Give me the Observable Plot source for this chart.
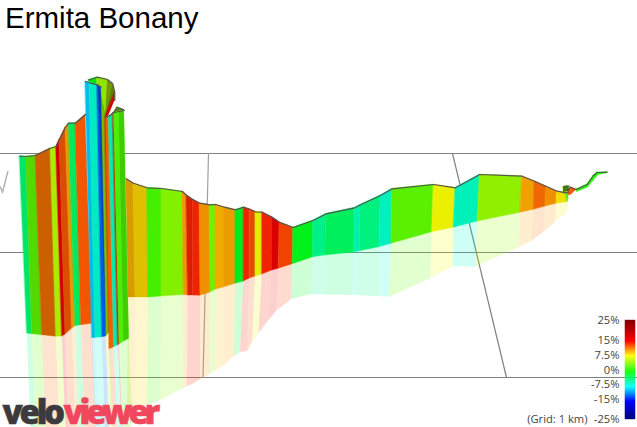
<!DOCTYPE html>
<html>
<head>
<meta charset="utf-8">
<script src="https://cdn.jsdelivr.net/npm/d3@7"></script>
<script src="https://cdn.jsdelivr.net/npm/@observablehq/plot@0.6"></script>
<style>
html,body{margin:0;padding:0;background:#fff;overflow:hidden}
#wrap{position:relative;width:637px;height:427px}
#title{position:absolute;left:5px;top:-1px;font:29.5px/38px "Liberation Sans",Arial,sans-serif;color:#000;white-space:nowrap}
.logo-a text{letter-spacing:-3.2px}
.logo-b text{letter-spacing:-4.1px}
</style>
</head>
<body>
<div id="wrap"><div id="title">Ermita Bonany</div></div>
<script>
const titleText = "Ermita Bonany";
const sectionNames = ["road","left","strip","ribbon","column","right","cap","bump","tip","tail"];
// per-section rows: profile top, wall foot, reflection foot; grade (%) of the band that starts there, surface darkness
const topX = [
 125.7,133,146.7,161,182,186,192.3,199.3,209.3,215,224,235,243.3,249.3,255,261.7,271.7,279,292.7,312.7,325.7,354.3,360,380,391.7,433.3,455,479.3,521.7,534,546,556.7,565,568,
 19.3,25.7,35,50,55.7,59,65,68.3,75,85,
 98,105.5,
 88,96.7,107,112.3,114.3,114.3,
 85,89,96.7,100.7,
 104.3,108.3,112.5,113.5,118.5,123.8,
 113.3,116.7,123.3,
 563,568.5,
 567.5,570,575.7,
 575.7,586.7,593,596.7,606.7];
const topY = [
 178.3,182.7,187.3,188,191,194.7,199,202.7,204.3,204,206.7,209.3,206.7,208.7,211.3,211.7,216.7,221.7,227,220,213.3,207.3,204.3,195,188.3,184,187.3,174,175.7,180.7,186,190.7,192.3,192,
 155.7,156,155,147.7,146,139,126.7,122.7,122.7,114,
 82,115,
 79.5,76.7,79,83.3,92,100,
 81,82.3,84.3,86.7,
 116.7,116,112.5,112,111,110,
 112,106.7,109.3,
 186,185.5,
 190,186.7,189,
 189,184,175,172,171.7];
const botX = [
 128,135,148,161,183.3,187.5,192.3,200,210,215,224,235,243.3,249.3,255,261.7,271.7,278.3,292.3,312.7,324.7,353.7,359.3,379,391,431.7,453.3,477.3,520,533.3,545,556,566.7,568,
 26.7,31.7,41.7,55.7,61.7,65,71.7,75,80.7,91.7,
 105.7,109,
 89,96.7,105,105,105,107,
 91.7,95,101.7,105.7,
 109,113.7,117.7,119,123.3,128.7,
 113.5,118,123.8,
 563,569,
 568.3,571,575.7,
 576.5,587.5,595,598,606.7];
const botY = [
 297,297,297,296,294.5,295,295,295.3,292,289.3,286.7,283.3,281,278,276,274,270,268.3,263.7,256.7,255,252,250.7,246.7,243.3,231.7,227.3,221,212.3,209.3,206,203.3,201.7,200,
 333,333.7,334.7,336.3,336,334,328,325.7,324.7,323.3,
 336,332,
 82,84.3,116,116,116,118,
 337.7,337.5,336.7,336,
 348.7,346.7,344.5,344,341,338.5,
 112,111,110,
 192,191,
 195,194,189.5,
 191.5,187,178,174.5,173];
const floorX = [
 127,134,147,160,183,187,192,200,209.5,214.5,223.5,234,240,247,252,258.5,268.5,276,291,311,323,352,358,378,389,430,452.7,475,518.3,531,543,555,566.7,567,
 31,36,46,60,66,69,76,79,85,96,
 109,113,
 null,null,null,null,null,null,
 95.5,99,105.5,109,
 113,118,122,123,127,132,
 null,null,null,
 null,null,
 null,null,null,
 null,null,null,null,null];
const floorY = [
 405,405,405,400,388,386,384,379.5,374,371,365,356,352,351,342,333,320,311,299,294,294.5,295,295.3,296,296.7,278.3,266,266.7,247.3,241,232,222,211.7,208,
 440,440,440,440,440,440,440,440,440,440,
 440,440,
 null,null,null,null,null,null,
 440,440,440,440,
 440,440,440,440,440,420,
 null,null,null,
 null,null,
 null,null,null,
 null,null,null,null,null];
const grades = [
 9.1,8.1,1.3,3.4,9.8,13.4,13.4,10,2.8,9.1,9.5,-2,13.4,12,6.4,13.4,15,12.4,-1.8,-5.3,-3.9,-6.5,-4.9,-7,2,6.8,-6.8,3.8,9.5,11.3,10,7.5,2,null,
 -4.4,2,11,4.8,15,11.8,9.5,-3.9,11.8,null,
 4,null,
 -1.5,4,5,5,15,null,
 -10,-7.2,-13,null,
 11.8,-6.5,15,1.5,1.5,null,
 4,4,null,
 3,null,
 12,12,null,
 0,0,0,0,null];
const shades = [
 .15,.12,.06,.06,.06,.15,.06,.06,.06,.06,.08,.08,.06,.1,.06,.06,.12,.06,.06,.06,.06,.06,.06,.06,.06,.06,.06,.06,.06,.06,.06,.06,.06,0,
 .1,.15,.2,.08,.15,.15,.1,.08,.05,0,
 .25,0,
 .1,.1,.4,.5,.15,0,
 .08,.08,.1,0,
 .02,.08,.1,.06,.2,0,
 .45,.45,0,
 .5,0,
 .04,.04,0,
 0,0,0,0,0];
const gridY = [153,252,377];
const slantA = [[208,153],[202.5,377]];
const slantB = [[452,153],[506,377]];
const slantC = [[7.3,171],[2,192],[0,186.5]];
const legendTicks = [25,15,7.5,0,-7.5,-15,-25];
const legendLabels = ["25%","15%","7.5%","0%","-7.5%","-15%","-25%"];
const legendNote = "(Grid: 1 km)";
const logoWords = ["velo","viewer"];

const bands = [];
const names = [];
let section = 0;
grades.forEach((g,i) => {
  names[i] = sectionNames[section];
  if (g === null) { section++; return; }
  [i,i+1].forEach((j) => bands.push({
    band:i, section:sectionNames[section], grade:g, shade:shades[i],
    x1:topX[j], y1:topY[j], x2:botX[j], y2:botY[j],
    fx:floorX[j], fy:floorY[j]
  }));
});
const floors = bands.filter(d => d.fy !== null);
const tops = topX.map((x,i) => ({x, y:topY[i], section:names[i]})).filter(d => d.section !== "strip");
const legendY = g => 369.5 - g*1.98;
const legendCells = d3.range(-25,25,0.5);
const line2 = (pts,o) => Plot.line(pts,{x:d=>d[0],y:d=>d[1],stroke:"#8f8f8f",strokeWidth:1.2,...o});

const chart = Plot.plot({
  width:637, height:427, margin:0,
  x:{domain:[0,637],range:[0,637],axis:null},
  y:{domain:[0,427],range:[0,427],axis:null},
  color:{type:"linear",domain:[-25,-16,-8.5,-1,7,14.5,25],
    range:["#00007f","#0000ff","#00ffff","#00ff00","#ffff00","#ff0000","#7f0000"]},
  opacity:{domain:[0,1],range:[0,1]},
  style:{background:"transparent"},
  marks:[
    Plot.ruleY(gridY,{stroke:"#808080",strokeWidth:1.2}),
    line2(slantA,{stroke:"#a0a0a0"}),
    line2(slantB,{stroke:"#808080"}),
    line2(slantC,{stroke:"#b4b4b4",strokeWidth:1.5}),
    Plot.area(floors,{x1:"x2",y1:"y2",x2:"fx",y2:"fy",z:"band",fill:"grade",fillOpacity:0.19,clip:true}),
    Plot.area(bands,{x1:"x1",y1:"y1",x2:"x2",y2:"y2",z:"band",fill:"grade",stroke:"grade",strokeWidth:0.4}),
    Plot.area(bands,{x1:"x1",y1:"y1",x2:"x2",y2:"y2",z:"band",fill:"#000",fillOpacity:"shade"}),
    Plot.line(tops,{x:"x",y:"y",z:"section",stroke:"#555",strokeWidth:1.2}),
    Plot.rect(legendCells,{x1:()=>625,x2:()=>635,y1:g=>legendY(g+0.5),y2:g=>legendY(g),fill:g=>g+0.25,inset:-0.2}),
    Plot.text(legendTicks,{x:()=>619,y:legendY,text:(g,i)=>legendLabels[i],textAnchor:"end",lineAnchor:"middle",fill:"#444",fontFamily:"Open Sans",fontSize:11.2}),
    Plot.text([legendNote],{x:()=>587,y:()=>legendY(-25),textAnchor:"end",lineAnchor:"middle",fill:"#444",fontFamily:"Open Sans",fontSize:11.2}),
    Plot.text([logoWords[0]],{className:"logo-a",x:()=>2,y:()=>423,textAnchor:"start",lineAnchor:"bottom",fill:"#3c3a3c",fontFamily:"Open Sans",fontWeight:800,fontSize:33,stroke:"#3c3a3c",strokeWidth:0.6}),
    Plot.text([logoWords[1]],{className:"logo-b",x:()=>63,y:()=>423,textAnchor:"start",lineAnchor:"bottom",fill:"#f0475c",fontFamily:"Open Sans",fontWeight:800,fontSize:33,stroke:"#f0475c",strokeWidth:0.6})
  ]
});
document.getElementById("wrap").appendChild(chart);
</script>
</body>
</html>
